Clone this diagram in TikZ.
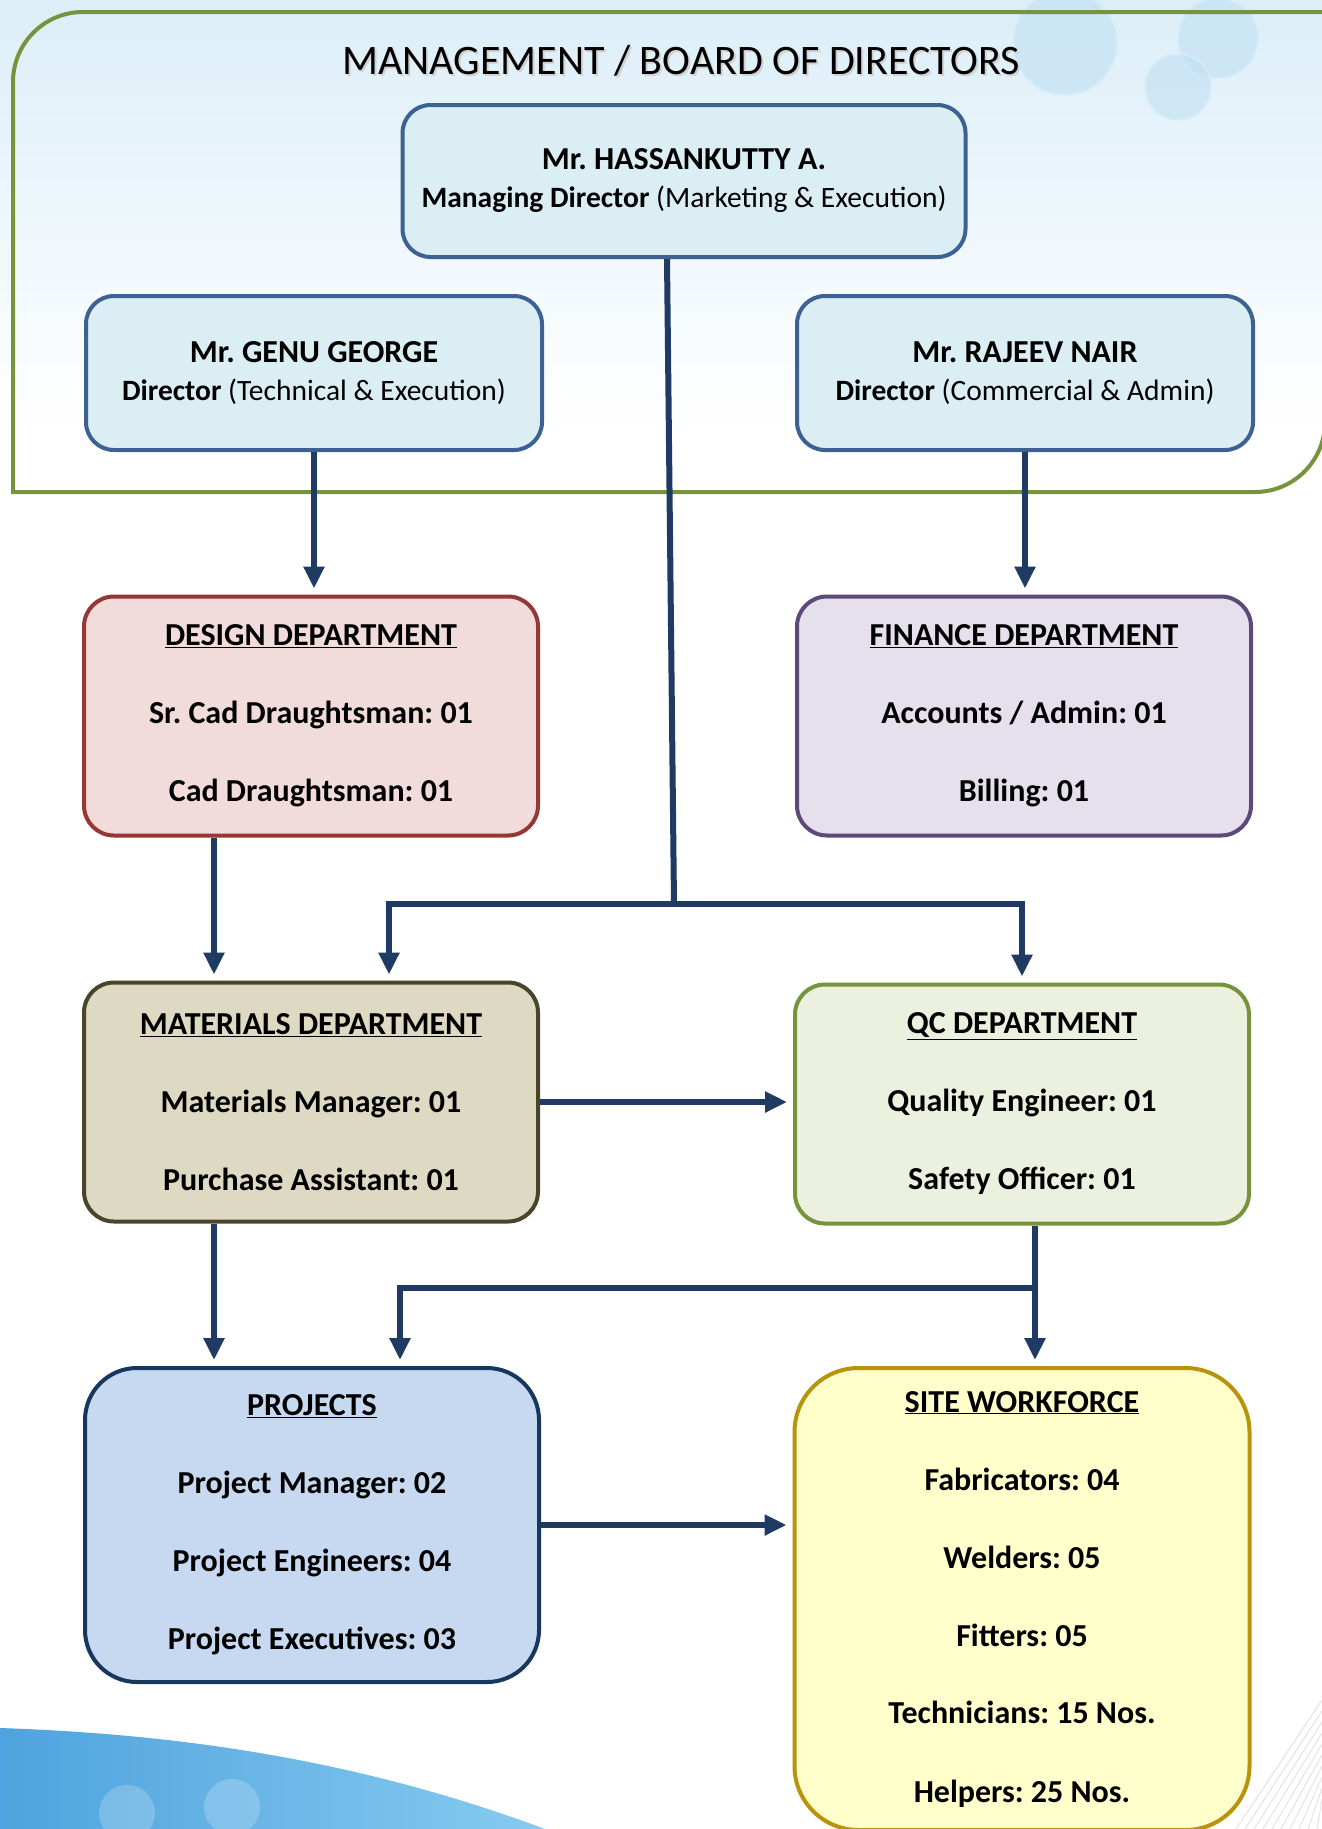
\documentclass[tikz,border=0pt]{standalone}
\usepackage{fontspec}
\setmainfont{Carlito}
\usetikzlibrary{arrows.meta}
\frenchspacing
\definecolor{linkblue}{HTML}{1F3B64}
\definecolor{framegreen}{HTML}{77933C}
\definecolor{skyblue}{HTML}{DCEEF8}
\definecolor{bubble}{HTML}{BFE0F3}
\definecolor{waveblue}{HTML}{4FA3DE}
\definecolor{wavelight}{HTML}{86CBF0}
\definecolor{bossfill}{HTML}{DBEEF4}
\definecolor{bossline}{HTML}{3D6193}
\definecolor{designfill}{HTML}{F2DCDB}
\definecolor{designline}{HTML}{953735}
\definecolor{financefill}{HTML}{E5E0EC}
\definecolor{financeline}{HTML}{5F497A}
\definecolor{materialfill}{HTML}{DDD9C3}
\definecolor{materialline}{HTML}{4A452A}
\definecolor{qcfill}{HTML}{EBF1DE}
\definecolor{qcline}{HTML}{77933C}
\definecolor{projectfill}{HTML}{C6D9F1}
\definecolor{projectline}{HTML}{17375E}
\definecolor{sitefill}{HTML}{FFFFCC}
\definecolor{siteline}{HTML}{B8930B}

\begin{document}
\begin{tikzpicture}[x=1pt,y=-1pt,
  box/.style={draw, line width=4pt, rounded corners=30pt, align=center, inner sep=0pt, font=\fontsize{32}{78}\selectfont\bfseries},
  boss/.style={box, draw=bossline, fill=bossfill, rounded corners=28pt, minimum width=456pt, minimum height=154pt, font=\fontsize{32}{38}\selectfont},
  dept/.style={box, minimum width=454pt, minimum height=239pt},
  link/.style={linkblue, line width=6pt},
  arrow/.style={link, -{Triangle[width=20pt,length=22pt]}, shorten >=6pt}]
\useasboundingbox (0,0) rectangle (1322,1829);
\fill[white] (0,0) rectangle (1322,1829);
\shade[top color=skyblue, bottom color=white] (0,0) rectangle (1322,430);
\foreach \cx/\cy/\r in {1065/43/52,1218/38/40,1178/87/33}
  \draw[bubble!60, line width=1.5pt, fill=bubble, fill opacity=.6] (\cx,\cy) circle[radius=\r pt];
\shade[left color=waveblue, right color=wavelight] (0,1728) .. controls (180,1734) and (360,1760) .. (545,1829) -- (0,1829) -- cycle;
\foreach \cx/\cy in {127/1813,232/1807}
  \fill[white, opacity=.2] (\cx,\cy) circle[radius=28pt];
\foreach \i in {0,...,9}
  \draw[gray!25, line width=.8pt] (1236+\i*9,1829) -- (1322,1700+\i*11);
\draw[framegreen, line width=4pt] (13,492) -- (13,82) arc[start angle=180, end angle=90, radius=70pt] -- (1325,12) -- (1325,422) arc[start angle=0, end angle=-90, radius=70pt] -- cycle;

\node[gray!35] (titleshadow) at (683,63) {\fontsize{42}{50}\selectfont MANAGEMENT / BOARD OF DIRECTORS};
\node (title) at (681,61) {\fontsize{42}{50}\selectfont MANAGEMENT / BOARD OF DIRECTORS};
\node[boss, minimum width=563pt, minimum height=152pt] (md) at (684,181) {\textbf{Mr. HASSANKUTTY A.}\\{\fontsize{29.5}{38}\selectfont\textbf{Managing Director} (Marketing \& Execution)}};
\node[boss] (genu) at (314,373) {\textbf{Mr. GENU GEORGE}\\{\fontsize{29.5}{38}\selectfont\textbf{Director} (Technical \& Execution)}};
\node[boss] (rajeev) at (1025,373) {\textbf{Mr. RAJEEV NAIR}\\{\fontsize{29.5}{38}\selectfont\textbf{Director} (Commercial \& Admin)}};

\node[dept, draw=designline, fill=designfill] (design) at (311,716) {\underline{DESIGN DEPARTMENT}\\Sr. Cad Draughtsman: 01\\Cad Draughtsman: 01};
\node[dept, draw=financeline, fill=financefill] (finance) at (1024,716) {\underline{FINANCE DEPARTMENT}\\Accounts / Admin: 01\\Billing: 01};
\node[dept, draw=materialline, fill=materialfill] (materials) at (311,1102) {\underline{MATERIALS DEPARTMENT}\\Materials Manager: 01\\Purchase Assistant: 01};
\node[dept, draw=qcline, fill=qcfill] (qc) at (1022,1104) {\underline{QC DEPARTMENT}\\Quality Engineer: 01\\Safety Officer: 01};
\node[box, draw=projectline, fill=projectfill, rounded corners=52pt, minimum width=454pt, minimum height=314pt] (projects) at (312,1525) {\underline{PROJECTS}\\Project Manager: 02\\Project Engineers: 04\\Project Executives: 03};
\node[box, draw=siteline, fill=sitefill, rounded corners=64pt, minimum width=455pt, minimum height=462pt] (site) at (1022,1599) {\underline{SITE WORKFORCE}\\Fabricators: 04\\Welders: 05\\Fitters: 05\\Technicians: 15 Nos.\\Helpers: 25 Nos.};

\coordinate (mdjoin) at (674,904);
\coordinate (qcjoin) at (1035,1288);
\draw[arrow] (genu.south) -- (genu.south |- design.north);
\draw[arrow] (rajeev.south) -- (rajeev.south |- finance.north);
\draw[link] ([xshift=-17pt]md.south) -- (mdjoin);
\draw[arrow] (mdjoin) -| ([xshift=78pt]materials.north);
\draw[arrow] (mdjoin) -| (qc.north);
\draw[arrow] ([xshift=-97pt]design.south) -- ([xshift=-97pt]materials.north);
\draw[arrow] (materials.east) -- (qc.west |- materials.east);
\draw[arrow] ([xshift=-97pt]materials.south) -- ([xshift=-98pt]projects.north);
\draw[arrow] ([xshift=13pt]qc.south) -- ([xshift=13pt]qc.south |- site.north);
\draw[arrow] (qcjoin) -| ([xshift=88pt]projects.north);
\draw[arrow] (projects.east) -- (site.west |- projects.east);
\end{tikzpicture}
\end{document}
